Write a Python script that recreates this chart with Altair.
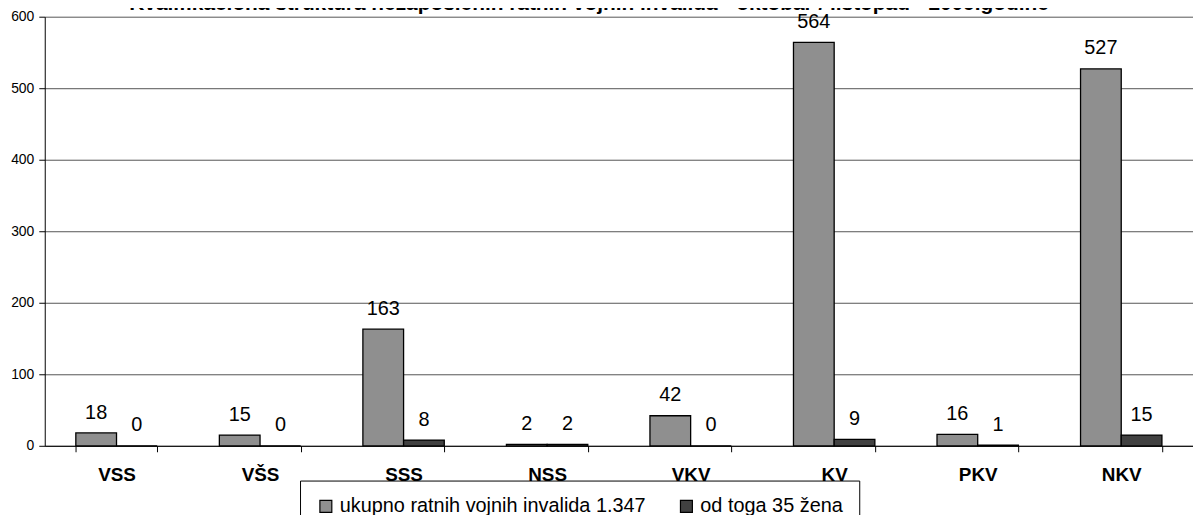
import altair as alt
import pandas as pd

categories = ["VSS", "VŠS", "SSS", "NSS", "VKV", "KV", "PKV", "NKV"]
total_values = [18, 15, 163, 2, 42, 564, 16, 527]
women_values = [0, 0, 8, 2, 0, 9, 1, 15]
series_names = ["ukupno ratnih vojnih invalida 1.347", "od toga 35 žena"]
series_colors = ["#8f8f8f", "#414141"]
y_ticks = [0, 100, 200, 300, 400, 500, 600]
title_text = "Kvalifikaciona struktura nezaposlenih ratnih vojnih invalida - oktobar / listopad - 2009.godine"

rows = []
for c, t, w in zip(categories, total_values, women_values):
    rows.append({"kat": c, "serija": series_names[0], "vrijednost": t})
    rows.append({"kat": c, "serija": series_names[1], "vrijednost": w})
df = pd.DataFrame(rows)

FONT = "Liberation Sans"

x_enc = alt.X(
    "kat:N",
    sort=categories,
    scale=alt.Scale(paddingInner=0.433, paddingOuter=0.2165),
    axis=alt.Axis(
        title=None, labelAngle=0, tickBand="extent", tickSize=6,
        labelFontSize=19, labelFontWeight="bold", labelFont=FONT,
        labelColor="black", labelBaseline="alphabetic", labelPadding=29,
        domainColor="black", tickColor="black", grid=False,
    ),
)
xoff_enc = alt.XOffset("serija:N", sort=series_names,
                       scale=alt.Scale(paddingInner=0, paddingOuter=0))
y_enc = alt.Y(
    "vrijednost:Q",
    scale=alt.Scale(domain=[0, 600], nice=False),
    axis=alt.Axis(
        values=y_ticks, title=None, grid=True, gridColor="#555555",
        domainColor="black", tickColor="black", tickSize=6,
        labelFontSize=14, labelFont=FONT, labelColor="black", labelPadding=5,
    ),
)

bars = alt.Chart(df).mark_bar(stroke="black", strokeWidth=1.3).encode(
    x=x_enc,
    xOffset=xoff_enc,
    y=y_enc,
    color=alt.Color(
        "serija:N", sort=series_names,
        scale=alt.Scale(domain=series_names, range=series_colors),
        legend=alt.Legend(
            title=None, orient="none", legendX=257, legendY=467,
            direction="horizontal", symbolType="square", symbolSize=144,
            symbolStrokeColor="black", symbolStrokeWidth=1.2, symbolOpacity=1,
            labelFontSize=20, labelFont=FONT, labelColor="black",
            labelOffset=4, columnPadding=31, padding=16,
            strokeColor="black", fillColor="white", labelLimit=600,
        ),
    ),
)

labels = alt.Chart(df).mark_text(
    font=FONT, fontSize=20, baseline="alphabetic", dy=-14.5, color="black"
).encode(x=x_enc, xOffset=xoff_enc, y=y_enc, text="vrijednost:Q")

title_layer = alt.Chart(pd.DataFrame({"t": [title_text]})).mark_text(
    font=FONT, fontSize=21, fontWeight="bold", baseline="alphabetic",
    align="center", color="black"
).encode(text="t:N", x=alt.value(548), y=alt.value(-7))

chart = alt.layer(bars, labels, title_layer).properties(
    width=1156, height=432,
    autosize=alt.AutoSizeParams(type="none"),
    padding={"left": 37, "top": 7, "right": 0, "bottom": 80},
).configure_view(strokeWidth=0)

chart.save("out.html", embed_options={"renderer": "svg", "actions": False})
